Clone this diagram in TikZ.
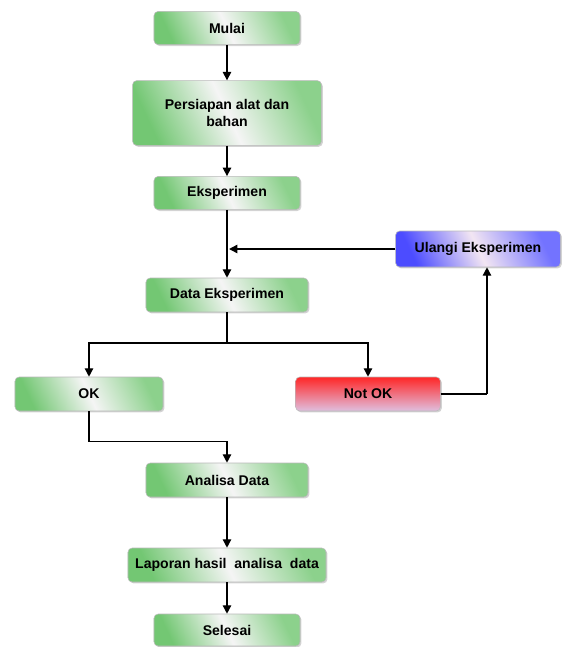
\documentclass[tikz,border=0pt]{standalone}
\usepackage{fontspec}
\setmainfont{Liberation Sans}
\usetikzlibrary{arrows.meta,shadows}
\begin{document}
\begin{tikzpicture}[x=0.025cm,y=-0.025cm,
	box/.style={draw=gray!55,rounded corners=3pt,inner sep=0pt,
		font=\bfseries\fontsize{10}{12}\selectfont,align=center,
		drop shadow={shadow xshift=1pt,shadow yshift=-1pt,opacity=.35}},
	greenbox/.style={box,left color=green!60!black!55,right color=green!60!black!45,
		middle color=gray!8,shading angle=115},
	bluebox/.style={box,left color=blue!70,right color=blue!55,
		middle color=violet!10,shading angle=115},
	redbox/.style={box,top color=red!85,bottom color=violet!25},
	arr/.style={-{Triangle[length=6pt,width=6pt]},line width=1pt},
	line/.style={line width=.8pt}]
	\useasboundingbox (0,0) rectangle (569,647);
	% kotak proses
	\node[greenbox,minimum width=3.65cm,minimum height=.83cm] (mulai) at (227,28) {Mulai};
	\node[greenbox,minimum width=4.72cm,minimum height=1.62cm] (persiapan) at (227,113)
		{Persiapan alat dan\\bahan};
	\node[greenbox,minimum width=3.65cm,minimum height=.83cm] (eksperimen) at (227,193) {Eksperimen};
	\node[bluebox,minimum width=4.12cm,minimum height=.9cm] (ulangi) at (478,249) {Ulangi Eksperimen};
	\node[greenbox,minimum width=4.05cm,minimum height=.85cm] (data) at (227,295) {Data Eksperimen};
	\node[greenbox,minimum width=3.7cm,minimum height=.85cm] (ok) at (89,394) {OK};
	\node[redbox,minimum width=3.62cm,minimum height=.85cm] (notok) at (368,394) {Not OK};
	\node[greenbox,minimum width=4.05cm,minimum height=.85cm] (analisa) at (227,480) {Analisa Data};
	\node[greenbox,minimum width=4.95cm,minimum height=.85cm] (laporan) at (227,565)
		{Laporan hasil\ \ analisa\ \ data};
	\node[greenbox,minimum width=3.65cm,minimum height=.8cm] (selesai) at (227,630) {Selesai};
	% titik bantu
	\coordinate (gabung) at (229,249);
	\coordinate (cabang) at (227,343);
	\coordinate (naik) at (487,394);
	% panah
	\draw[arr] (mulai) -- (persiapan);
	\draw[arr] (persiapan) -- (eksperimen);
	\draw[arr] (eksperimen) -- (data);
	\draw[arr] (ulangi.west) -- (gabung);
	\draw[line] (data) -- (cabang);
	\draw[arr] (cabang) -| (ok.north);
	\draw[arr] (cabang) -| (notok.north);
	\draw[line] (notok.east) -- (naik);
	\draw[arr] (naik) -- (naik |- ulangi.south);
	\draw[arr] (ok.south) -- ++(0,30) -| (analisa.north);
	\draw[arr] (analisa) -- (laporan);
	\draw[arr] (laporan) -- (selesai);
\end{tikzpicture}
\end{document}
